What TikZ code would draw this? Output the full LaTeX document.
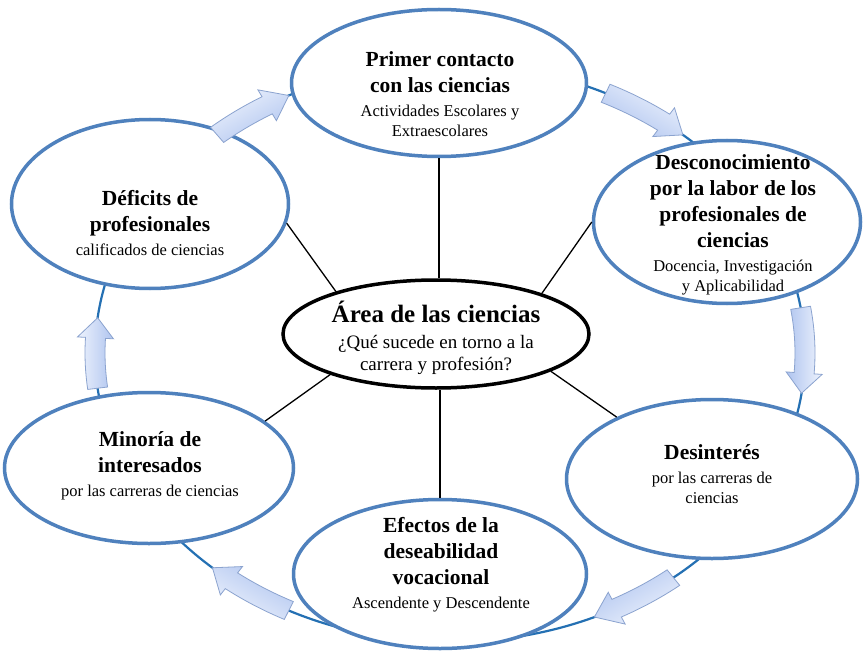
\documentclass[tikz,border=0pt]{standalone}
\usepackage{fontspec}
\setmainfont{Liberation Serif}
\usetikzlibrary{shapes.geometric}
\definecolor{ellblue}{HTML}{4F81BD}
\definecolor{ringblue}{HTML}{2470B3}
\definecolor{arrlight}{HTML}{EEF3FD}
\definecolor{arrdark}{HTML}{AFC4EF}
\definecolor{arredge}{HTML}{8BA3CF}
\tikzset{
  outerell/.style={ellipse, draw=ellblue, line width=3.5pt, fill=white, inner sep=0pt},
  coreell/.style={ellipse, draw=black, line width=3.5pt, fill=white, inner sep=0pt,
    minimum width=306pt, minimum height=108pt},
  txt/.style={align=center, inner sep=0pt, font=\fontsize{16.5}{20}\selectfont},
  spoke/.style={draw=black, line width=1.3pt},
  ringline/.style={draw=ringblue, line width=2.2pt},
  blockarrow/.style={draw=arredge, line width=0.8pt, left color=arrlight, right color=arrdark, shading angle=#1},
}
\newcommand{\bt}[1]{{\bfseries\fontsize{21.5}{26}\selectfont #1}}
\newcommand{\ringarrow}[4]{%
  \path[blockarrow=#4]
    plot[domain=#1:#2, samples=12, variable=\t] ({450+365*cos(\t)},{353-299*sin(\t)})
    -- ({450+373*cos(#2)},{353-307*sin(#2)})
    -- ({450+355*cos(#3)},{353-289*sin(#3)})
    -- ({450+337*cos(#2)},{353-271*sin(#2)})
    -- plot[domain=#2:#1, samples=12, variable=\t] ({450+345*cos(\t)},{353-279*sin(\t)})
    -- cycle;}
\begin{document}
\begin{tikzpicture}[x=1pt,y=-1pt]
\useasboundingbox[fill=white] (0,0) rectangle (864,655);
% ring
\draw[ringline] (450,353) ellipse [x radius=355pt, y radius=289pt];
% ellipses
\node[outerell, minimum width=295pt, minimum height=147pt] (e1) at (439,83) {};
\node[outerell, minimum width=267pt, minimum height=163pt] (e2) at (727,222) {};
\node[outerell, minimum width=291pt, minimum height=159pt] (e3) at (712,479) {};
\node[outerell, minimum width=293pt, minimum height=149pt] (e4) at (440,574) {};
\node[outerell, minimum width=289pt, minimum height=151pt] (e5) at (149,468) {};
\node[outerell, minimum width=277pt, minimum height=169pt] (e6) at (150,204) {};
\node[coreell] (c) at (436,334) {};
% spokes
\draw[spoke] (e1.south) -- (e1.south |- c.north);
\draw[spoke] (c.21) -- (e2.180);
\draw[spoke] (c.-18) -- (e3.147);
\draw[spoke] (e4.north) -- (e4.north |- c.south);
\draw[spoke] (c.-159) -- (e5.22);
\draw[spoke] (c.157) -- (e6.-8);
% curved block arrows
\ringarrow{131}{121}{117}{30}
\ringarrow{64}{53}{49}{-30}
\ringarrow{9}{-4}{-8}{-90}
\ringarrow{-51}{-62}{-66}{-150}
\ringarrow{-117}{-128}{-132}{150}
\ringarrow{187}{177}{173}{90}
% texts
\node[txt] (t1) at (440,94) {\bt{Primer contacto}\\[6pt]\bt{con las ciencias}\\[4pt]
  Actividades Escolares y\\Extraescolares};
\node[txt] (t2) at (733,225) {\bt{Desconocimiento}\\[6pt]\bt{por la labor de los}\\[6pt]
  \bt{profesionales de}\\[6pt]\bt{ciencias}\\[4pt]Docencia, Investigación\\y Aplicabilidad};
\node[txt] (t3) at (712,474) {\bt{Desinterés}\\[4pt]por las carreras de\\ciencias};
\node[txt] (t4) at (441,565) {\bt{Efectos de la}\\[6pt]\bt{deseabilidad}\\[6pt]\bt{vocacional}\\[4pt]
  Ascendente y Descendente};
\node[txt] (t5) at (150,466) {\bt{Minoría de}\\[6pt]\bt{interesados}\\[4pt]por las carreras de ciencias};
\node[txt] (t6) at (150,223) {\bt{Déficits de}\\[6pt]\bt{profesionales}\\[4pt]calificados de ciencias};
\node[txt, font=\fontsize{19}{22}\selectfont] (tc) at (436,338)
  {{\bfseries\fontsize{25}{28}\selectfont Área de las ciencias}\\[4pt]¿Qué sucede en torno a la\\carrera y profesión?};
\end{tikzpicture}
\end{document}
